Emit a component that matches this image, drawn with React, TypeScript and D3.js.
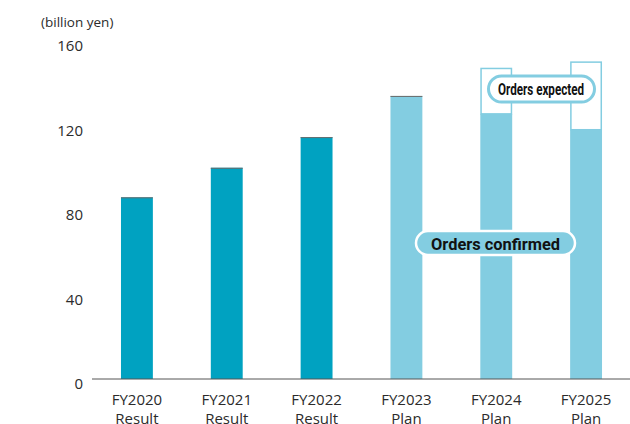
import React from "react";
import * as d3 from "d3";

const categories = ["FY2020", "FY2021", "FY2022", "FY2023", "FY2024", "FY2025"];
const subLabels = ["Result", "Result", "Result", "Plan", "Plan", "Plan"];
const confirmed = [86, 100, 114.5, 134, 125.5, 118];
const expectedExtra = [0, 0, 0, 0, 21.5, 32];
const yTicks = [0, 40, 80, 120, 160];
const unitLabel = "(billion yen)";
const confirmedLabel = "Orders confirmed";
const expectedLabel = "Orders expected";

const W = 630;
const H = 424;
const DARK = "#00a2c1";
const LIGHT = "#83cde1";
const TEXT = "#2b2b2b";
const FONT = "'Open Sans', 'Noto Sans', sans-serif";
const PILL_FONT = "'Liberation Sans Narrow', 'Roboto', 'Open Sans', sans-serif";

export default function App() {
  const x = d3.scaleBand<string>().domain(categories).range([92, 631]).paddingInner(0.645).paddingOuter(0.3225);
  const y = d3.scaleLinear().domain([0, 160]).range([379, 41]);
  const bw = x.bandwidth();
  const cx = (c: string) => (x(c) as number) + bw / 2;

  return (
    <svg width={W} height={H} style={{ position: "absolute", left: 0, top: 0, background: "#fff" }}>
      <text x={41} y={22} fontFamily={FONT} fontSize={13.5} fill={TEXT} dominantBaseline="central">
        {unitLabel}
      </text>
      {yTicks.map((t) => (
        <text key={t} x={83} y={y(t) + 4} textAnchor="end" dominantBaseline="central" fontFamily={FONT} fontSize={15} fill={TEXT}>
          {t}
        </text>
      ))}
      {categories.map((c, i) => {
        const plan = subLabels[i] === "Plan";
        const x0 = x(c) as number;
        const top = y(confirmed[i]);
        const extra = expectedExtra[i];
        return (
          <g key={c}>
            {extra > 0 && (
              <rect
                x={x0 + 0.75}
                y={y(confirmed[i] + extra)}
                width={bw - 1.5}
                height={top - y(confirmed[i] + extra)}
                fill="#fff"
                stroke={LIGHT}
                strokeWidth={1.5}
              />
            )}
            <rect x={x0} y={top} width={bw} height={y(0) - top} fill={plan ? LIGHT : DARK} />
            {extra === 0 && <line x1={x0} x2={x0 + bw} y1={top + 0.5} y2={top + 0.5} stroke="#6a6a6a" strokeWidth={1} />}
          </g>
        );
      })}
      <line x1={92} x2={630} y1={379} y2={379} stroke="#555" strokeWidth={1} />
      {categories.map((c, i) => (
        <g key={"l" + c} fontFamily={FONT} fontSize={15} fill={TEXT} textAnchor="middle">
          <text x={cx(c)} y={399} dominantBaseline="central">{c}</text>
          <text x={cx(c)} y={418} dominantBaseline="central">{subLabels[i]}</text>
        </g>
      ))}
      {/* Orders confirmed pill */}
      <g>
        <rect x={416} y={231} width={159} height={24} rx={12} fill={LIGHT} stroke="#fff" strokeWidth={2.5} />
        <text x={495.5} y={243.5} textAnchor="middle" dominantBaseline="central" fontFamily={PILL_FONT} fontWeight="bold" fontSize={17} fill="#111" textLength={129} lengthAdjust="spacingAndGlyphs">
          {confirmedLabel}
        </text>
      </g>
      {/* Orders expected pill */}
      <g>
        <rect x={488.5} y={76} width={106} height={26} rx={13} fill="#fff" stroke={LIGHT} strokeWidth={3} />
        <text x={541} y={89.5} textAnchor="middle" dominantBaseline="central" fontFamily={PILL_FONT} fontWeight="bold" fontSize={16} fill="#111" textLength={86} lengthAdjust="spacingAndGlyphs">
          {expectedLabel}
        </text>
      </g>
    </svg>
  );
}
